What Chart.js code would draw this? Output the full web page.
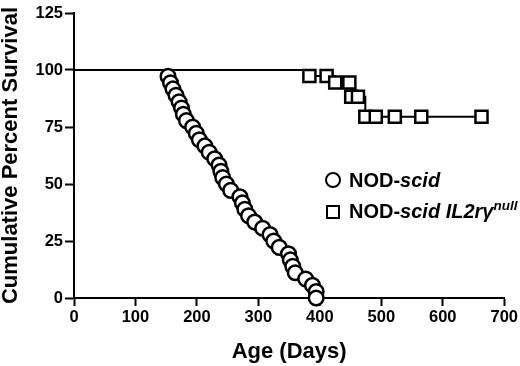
<!DOCTYPE html>
<html>
<head>
<meta charset="utf-8">
<script src="https://cdn.jsdelivr.net/npm/chart.js@4.4.1/dist/chart.umd.min.js"></script>
<style>
html,body{margin:0;padding:0;background:#fff;}
#wrap{position:relative;width:520px;height:366px;overflow:hidden;}
canvas{display:block;}
.lg{position:absolute;left:349px;font-family:"Liberation Sans",Arial,Helvetica,sans-serif;font-weight:bold;font-size:20px;line-height:20px;color:#000;white-space:nowrap;}
.lg i{font-style:italic;}
.lg .sup{font-size:13.5px;font-style:italic;position:relative;top:-8px;}
.mk{position:absolute;box-sizing:border-box;border:2.5px solid #000;background:#fff;}
.circ{width:16px;height:16px;border-radius:50%;}
.sq{width:14px;height:14px;}
</style>
</head>
<body>
<div id="wrap">
<canvas id="c" width="520" height="366"></canvas>
<div class="mk circ" style="left:325px;top:172px"></div>
<div class="lg" style="top:170px">NOD-<i>scid</i></div>
<div class="mk sq" style="left:326px;top:204.5px"></div>
<div class="lg" style="top:201px">NOD-<i>scid IL2r&gamma;</i><span class="sup">null</span></div>
</div>
<script>
// NOD-scid (circles): age in days and cumulative percent survival
const scidDays = [0, 153,157,161,166,171,175,178,183,193,199,204,213,220,229,236,239,242,248,255,270,274,278,284,294,307,319,325,334,349,352,356,360,377,388,394,394];
const scidSurvival = [100, 97.2,94.4,91.7,88.9,86.1,83.3,80.6,77.8,75,72.2,69.4,66.7,63.9,61.1,58.3,55.6,52.8,50,47.2,44.4,41.7,38.9,36.1,33.3,30.6,27.8,25,22.2,19.4,16.7,13.9,11.1,8.3,5.6,2.8,0];

// NOD-scid IL2rγnull (squares)
const nullDays = [0, 383,411,425,448,451,462,474,491,522,565,663];
const nullSurvival = [100, 97.4,97.4,94.5,94.5,88.3,88.3,79.5,79.5,79.5,79.5,79.5];

const xTicks = [0,100,200,300,400,500,600,700];
const yTicks = [0,25,50,75,100,125];

const FONT = '"Liberation Sans", Arial, Helvetica, sans-serif';

function pts(xs, ys){ return xs.map((x,i)=>({x:x, y:ys[i]})); }

new Chart(document.getElementById('c'), {
  type: 'line',
  data: {
    datasets: [
      {
        label: 'NOD-scid',
        data: pts(scidDays, scidSurvival),
        stepped: true,
        borderColor: '#000',
        borderWidth: 2,
        pointStyle: 'circle',
        pointRadius: c => c.dataIndex === 0 ? 0 : 7.3,
        pointHoverRadius: c => c.dataIndex === 0 ? 0 : 7.3,
        pointBorderWidth: 2.5,
        pointBackgroundColor: '#fff',
        pointBorderColor: '#000',
        clip: false,
        fill: false
      },
      {
        label: 'NOD-scid IL2rγnull',
        data: pts(nullDays, nullSurvival),
        stepped: true,
        borderColor: '#000',
        borderWidth: 2,
        pointStyle: 'rect',
        pointRadius: c => c.dataIndex === 0 ? 0 : 8.5,
        pointHoverRadius: c => c.dataIndex === 0 ? 0 : 8.5,
        pointBorderWidth: 2.5,
        pointBackgroundColor: '#fff',
        pointBorderColor: '#000',
        clip: false,
        fill: false
      }
    ]
  },
  options: {
    responsive: false,
    animation: false,
    devicePixelRatio: 1,
    layout: { padding: { left: 0, right: 15, top: 13, bottom: 0 } },
    plugins: { legend: { display: false }, tooltip: { enabled: false } },
    scales: {
      x: {
        type: 'linear',
        min: 0, max: 700,
        afterBuildTicks: s => { s.ticks = xTicks.map(v => ({value: v})); },
        ticks: { color: '#000', font: { family: FONT, size: 16.5, weight: 'bold' }, padding: 2, maxRotation: 0, autoSkip: false },
        grid: { drawOnChartArea: false, drawTicks: true, tickLength: 8, tickWidth: 2, tickColor: '#000' },
        border: { display: true, color: '#000', width: 2 },
        title: { display: true, text: 'Age (Days)', color: '#000', font: { family: FONT, size: 22, weight: 'bold', lineHeight: 1.2 }, padding: { top: 0, bottom: 1 } },
        afterFit: s => { s.height = 68; }
      },
      y: {
        type: 'linear',
        min: 0, max: 125,
        afterBuildTicks: s => { s.ticks = yTicks.map(v => ({value: v})); },
        ticks: { color: '#000', font: { family: FONT, size: 16.5, weight: 'bold' }, padding: 2, autoSkip: false },
        grid: { drawOnChartArea: false, drawTicks: true, tickLength: 9, tickWidth: 2, tickColor: '#000' },
        border: { display: true, color: '#000', width: 2 },
        title: { display: true, text: 'Cumulative Percent Survival', color: '#000', font: { family: FONT, size: 22, weight: 'bold', lineHeight: 1.0 }, padding: { top: 0, bottom: 0 } },
        afterFit: s => { s.width = 74; }
      }
    }
  }
});
</script>
</body>
</html>
